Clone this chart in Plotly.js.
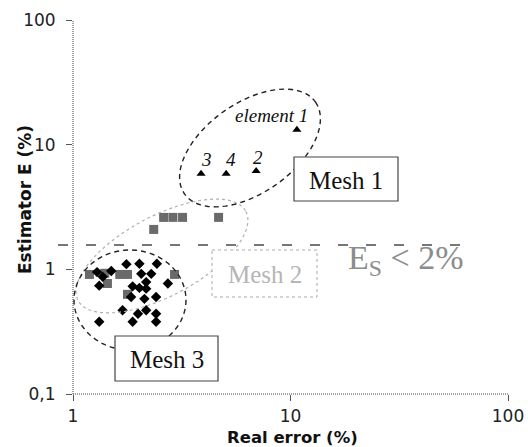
<!DOCTYPE html>
<html>
<head>
<meta charset="utf-8">
<script src="https://cdn.plot.ly/plotly-3.0.1.min.js"></script>
<style>
  html, body { margin: 0; padding: 0; background: #fff; }
  #chart { width: 528px; height: 447px; }
</style>
</head>
<body>
<div id="chart"></div>
<script>
// ---------------- DATA ----------------
// Mesh 1 (triangles) : real error (%), estimator E (%)
const mesh1X = [3.88, 5.06, 6.95, 10.7];
const mesh1Y = [5.85, 5.85, 6.14, 13.2];
const mesh1Labels = ['3', '4', '2', 'element 1'];

// Mesh 2 (grey squares)
const mesh2X = [2.35, 2.61, 2.88, 3.19, 4.67, 1.19, 1.40, 1.44, 1.64, 1.78, 1.78, 2.93];
const mesh2Y = [2.09, 2.61, 2.61, 2.61, 2.61, 0.91, 0.93, 0.77, 0.91, 0.91, 0.63, 0.91];

// Mesh 3 (black diamonds)
const mesh3X = [1.76, 2.02, 2.43, 2.06, 2.29, 1.50, 1.37, 1.29, 1.32, 1.88, 2.02, 2.17, 2.17,
                2.73, 1.85, 2.13, 2.41, 1.69, 1.99, 2.17, 2.41, 1.88, 2.41, 1.32];
const mesh3Y = [1.10, 1.11, 1.11, 0.92, 0.92, 0.97, 0.87, 0.95, 0.74, 0.73, 0.71, 0.79, 0.70,
                0.77, 0.60, 0.58, 0.60, 0.47, 0.44, 0.47, 0.44, 0.38, 0.38, 0.38];

// Threshold line (estimator level)
const thresholdE = 1.57;

// Axis ticks
const xTickVals = [1, 10, 100];
const xTickText = ['1', '10', '100'];
const yTickVals = [0.1, 1, 10, 100];
const yTickText = ['0,1', '1', '10', '100'];

const xTitle = 'Real error (%)';
const yTitle = 'Estimator E (%)';
const meshNames = ['Mesh 1', 'Mesh 2', 'Mesh 3'];
const thresholdText = 'E<sub>S</sub> &lt; 2%';

// ---------------- LAYOUT HELPERS ----------------
const W = 528, H = 447;
const M = { l: 73, r: 20, t: 20, b: 53 };
const PW = W - M.l - M.r, PH = H - M.t - M.b;
const px2x = p => (p - M.l) / PW;
const py2y = p => (H - M.b - p) / PH;

function ellipsePath(cx, cy, a, b, deg) {
  const th = deg * Math.PI / 180;
  const pts = [];
  const n = 90;
  for (let i = 0; i < n; i++) {
    const t = 2 * Math.PI * i / n;
    const ex = a * Math.cos(t), ey = b * Math.sin(t);
    const X = cx + ex * Math.cos(th) + ey * Math.sin(th);
    const Y = cy - ex * Math.sin(th) + ey * Math.cos(th);
    pts.push(px2x(X).toFixed(5) + ',' + py2y(Y).toFixed(5));
  }
  return 'M' + pts.join(' L') + ' Z';
}

const serif = 'Liberation Serif, Times New Roman, serif';
const sans = 'DejaVu Sans, Arial, sans-serif';

const traces = [
  {
    x: mesh2X, y: mesh2Y, type: 'scatter', mode: 'markers', name: meshNames[1],
    marker: { symbol: 'square', size: 9, color: '#6a6a6a' }
  },
  {
    x: mesh3X, y: mesh3Y, type: 'scatter', mode: 'markers', name: meshNames[2],
    marker: { symbol: 'diamond', size: 8, color: '#000' }
  },
  {
    x: mesh1X, y: mesh1Y, type: 'scatter', mode: 'markers', name: meshNames[0],
    marker: { symbol: 'triangle-up', size: 8, color: '#000' }
  }
];

const shapes = [
  // dotted axis lines
  { type: 'line', xref: 'paper', yref: 'paper', x0: 0, x1: 1, y0: 0, y1: 0,
    line: { color: '#444', width: 1, dash: '1px,1px' }, layer: 'below' },
  { type: 'line', xref: 'paper', yref: 'paper', x0: 0, x1: 0, y0: 0, y1: 1,
    line: { color: '#444', width: 1, dash: '1px,1px' }, layer: 'below' },
  // threshold dashed line
  { type: 'line', xref: 'paper', yref: 'y', x0: px2x(58), x1: px2x(462), y0: thresholdE, y1: thresholdE,
    line: { color: '#777', width: 2, dash: '10px,18px' } },
  // ellipses
  { type: 'path', xref: 'paper', yref: 'paper', path: ellipsePath(162, 256, 95, 40, 28),
    line: { color: '#b0b0b0', width: 1.2, dash: '3px,3px' } },
  { type: 'path', xref: 'paper', yref: 'paper', path: ellipsePath(250, 148, 80, 45, 35),
    line: { color: '#222', width: 1.4, dash: '5px,4px' } },
  { type: 'path', xref: 'paper', yref: 'paper', path: ellipsePath(130, 300, 56, 50, 0),
    line: { color: '#222', width: 1.4, dash: '5px,4px' } },
  // label boxes
  { type: 'rect', xref: 'paper', yref: 'paper', x0: px2x(294), x1: px2x(398), y0: py2y(157), y1: py2y(201),
    fillcolor: '#fff', line: { color: '#444', width: 1.2 } },
  { type: 'rect', xref: 'paper', yref: 'paper', x0: px2x(212), x1: px2x(317), y0: py2y(250), y1: py2y(297),
    fillcolor: '#fff', line: { color: '#aaa', width: 1, dash: 'dot' } },
  { type: 'rect', xref: 'paper', yref: 'paper', x0: px2x(115), x1: px2x(218), y0: py2y(336), y1: py2y(381),
    fillcolor: '#fff', line: { color: '#444', width: 1.2 } }
];

const labelShifts = [[5, 14], [5, 14], [2, 14], [-25, 14]];
const annotations = mesh1Labels.map((t, i) => ({
  xref: 'x', yref: 'y', x: Math.log10(mesh1X[i]), y: Math.log10(mesh1Y[i]),
  xanchor: 'center', yanchor: 'middle',
  text: '<i>' + t + '</i>', showarrow: false,
  xshift: labelShifts[i][0], yshift: labelShifts[i][1],
  font: { family: serif, size: 19, color: '#111' }
}));

annotations.push(
  { xref: 'paper', yref: 'paper', x: px2x(346), y: py2y(180), xanchor: 'center', yanchor: 'middle',
    text: meshNames[0], showarrow: false,
    font: { family: serif, size: 25, color: '#111' } },
  { xref: 'paper', yref: 'paper', x: px2x(265), y: py2y(274), xanchor: 'center', yanchor: 'middle',
    text: meshNames[1], showarrow: false,
    font: { family: serif, size: 25, color: '#b5b5b5' } },
  { xref: 'paper', yref: 'paper', x: px2x(167), y: py2y(359), xanchor: 'center', yanchor: 'middle',
    text: meshNames[2], showarrow: false,
    font: { family: serif, size: 25, color: '#111' } },
  { xref: 'paper', yref: 'paper', x: px2x(346), y: py2y(260), xanchor: 'left', yanchor: 'middle',
    text: thresholdText, showarrow: false,
    font: { family: serif, size: 34, color: '#8c8c8c' } },
  { xref: 'paper', yref: 'paper', x: px2x(292), y: py2y(437), xanchor: 'center', yanchor: 'middle',
    text: '<b>' + xTitle + '</b>', showarrow: false,
    font: { family: sans, size: 16.5, color: '#111' } },
  { xref: 'paper', yref: 'paper', x: px2x(25), y: py2y(200), xanchor: 'center', yanchor: 'middle',
    text: '<b>' + yTitle + '</b>', showarrow: false, textangle: -90,
    font: { family: sans, size: 17, color: '#111' } }
);

const axisCommon = {
  type: 'log', showgrid: false, zeroline: false, showline: false,
  ticks: 'outside', ticklen: 6, tickcolor: '#555', tickwidth: 1,
  tickfont: { family: sans, size: 17, color: '#222' }
};

const layout = {
  width: W, height: H,
  margin: M,
  paper_bgcolor: '#fff', plot_bgcolor: '#fff',
  showlegend: false,
  xaxis: Object.assign({}, axisCommon, {
    range: [0, 2], tickmode: 'array', tickvals: xTickVals, ticktext: xTickText,
    ticklabelstandoff: 1
  }),
  yaxis: Object.assign({}, axisCommon, {
    range: [-1, 2], tickmode: 'array', tickvals: yTickVals, ticktext: yTickText,
    ticklabelstandoff: 7
  }),
  shapes: shapes,
  annotations: annotations
};

Plotly.newPlot('chart', traces, layout, { staticPlot: true, displayModeBar: false });
</script>
</body>
</html>
